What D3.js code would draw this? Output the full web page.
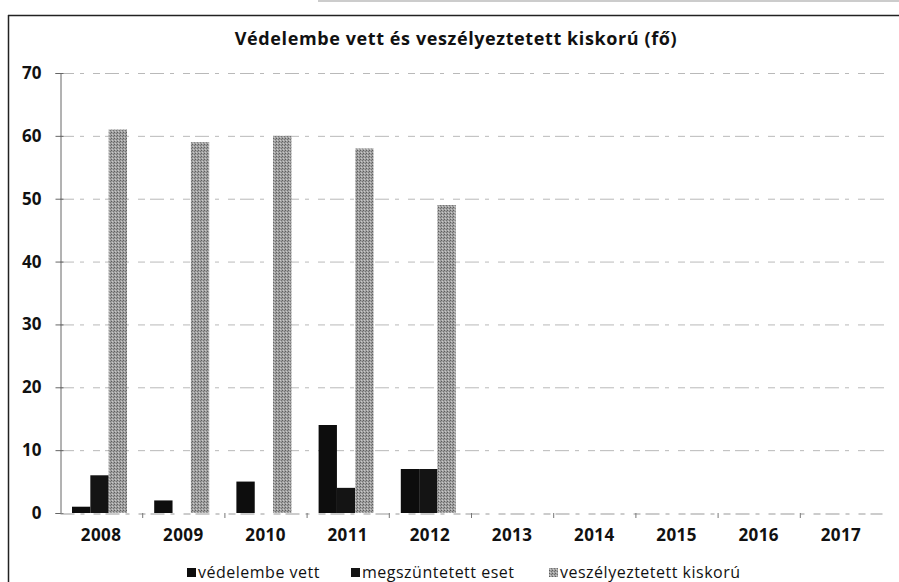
<!DOCTYPE html>
<html>
<head>
<meta charset="utf-8">
<script src="https://cdn.jsdelivr.net/npm/d3@7"></script>
<style>
  body { margin: 0; background: #fff; }
  svg { display: block; font-family: "Open Sans", sans-serif; }
</style>
</head>
<body>
<svg id="chart" width="899" height="582"></svg>
<script>
const years = ["2008", "2009", "2010", "2011", "2012", "2013", "2014", "2015", "2016", "2017"];
const seriesNames = ["védelembe vett", "megszüntetett eset", "veszélyeztetett kiskorú"];
const vedelembeVett = [1, 2, 5, 14, 7, null, null, null, null, null];
const megszuntetett = [6, 0, 0, 4, 7, null, null, null, null, null];
const veszelyeztetett = [61, 59, 60, 58, 49, null, null, null, null, null];
const yTicks = [0, 10, 20, 30, 40, 50, 60, 70];

const svg = d3.select("#chart");
const plot = {left: 60, right: 882, top: 73, bottom: 513};

// textures for the bars
const defs = svg.append("defs");
const grayPat = defs.append("pattern")
    .attr("id", "grayTex")
    .attr("width", 3).attr("height", 3)
    .attr("patternUnits", "userSpaceOnUse");
grayPat.append("rect").attr("width", 3).attr("height", 3).attr("fill", "#a0a0a0");
grayPat.append("rect").attr("x", 0).attr("y", 0).attr("width", 1).attr("height", 1).attr("fill", "#5e5e5e");
grayPat.append("rect").attr("x", 2).attr("y", 1).attr("width", 1).attr("height", 1).attr("fill", "#737373");
grayPat.append("rect").attr("x", 1).attr("y", 2).attr("width", 1).attr("height", 1).attr("fill", "#cacaca");

const colors = ["#0d0d0d", "#141414", "url(#grayTex)"];

// outer frame (left and top edges only show in the scan)
svg.append("line")
    .attr("x1", 8.5).attr("x2", 8.5).attr("y1", 15).attr("y2", 582)
    .attr("stroke", "#222").attr("stroke-width", 1.5);
svg.append("line")
    .attr("x1", 8).attr("x2", 899).attr("y1", 15.5).attr("y2", 15.5)
    .attr("stroke", "#222").attr("stroke-width", 1.5);
svg.append("line")
    .attr("x1", 318).attr("x2", 899).attr("y1", 1).attr("y2", 1)
    .attr("stroke", "#bbb").attr("stroke-width", 1.5);

// title
svg.append("text")
    .attr("x", 456).attr("y", 45)
    .attr("text-anchor", "middle")
    .style("font-size", "18px")
    .style("font-weight", "bold")
    .style("letter-spacing", "0.6px")
    .attr("fill", "#111")
    .text("Védelembe vett és veszélyeztetett kiskorú (fő)");

const x = d3.scaleBand()
    .domain(years)
    .range([plot.left, plot.right])
    .padding(0);

const x1 = d3.scaleBand()
    .domain(seriesNames)
    .range([12, 67])
    .padding(0);

const y = d3.scaleLinear()
    .domain([0, 70])
    .range([plot.bottom, plot.top]);

// gridlines
svg.append("g")
    .selectAll("line")
    .data(yTicks.filter(d => d > 0))
    .enter()
    .append("line")
    .attr("x1", plot.left).attr("x2", 887)
    .attr("y1", d => y(d) + 0.5).attr("y2", d => y(d) + 0.5)
    .attr("stroke", "#8a8a8a")
    .attr("stroke-opacity", 0.6)
    .attr("stroke-dasharray", "14,6,4,9,7,5");

// y axis
const yAxis = svg.append("g")
    .attr("transform", `translate(${plot.left + 0.5},0)`)
    .call(d3.axisLeft(y).tickValues(yTicks).tickSize(5).tickPadding(14));
yAxis.select(".domain").attr("stroke", "#666");
yAxis.selectAll(".tick line").attr("stroke", "#666").attr("x2", -5).attr("x1", 3);
yAxis.selectAll("text")
    .style("font-size", "17px")
    .style("font-weight", "bold")
    .style("font-family", "'Open Sans', sans-serif")
    .attr("fill", "#111");

// x axis
const xAxis = svg.append("g")
    .attr("transform", `translate(0,${plot.bottom + 0.5})`)
    .call(d3.axisBottom(x).tickSize(0).tickPadding(15));
xAxis.select(".domain").attr("stroke", "#999").attr("stroke-dasharray", "14,6,4,9,7,5");
xAxis.selectAll("text")
    .style("font-size", "17px")
    .style("font-weight", "bold")
    .style("letter-spacing", "0.4px")
    .style("font-family", "'Open Sans', sans-serif")
    .attr("fill", "#111");
// small category separators
svg.append("g")
    .selectAll("line")
    .data(years.slice(1))
    .enter()
    .append("line")
    .attr("x1", d => x(d) + 0.5).attr("x2", d => x(d) + 0.5)
    .attr("y1", plot.bottom).attr("y2", plot.bottom + 5)
    .attr("stroke", "#777");

// bars
const seriesData = [vedelembeVett, megszuntetett, veszelyeztetett];
seriesData.forEach((vals, si) => {
    svg.append("g")
        .selectAll("rect")
        .data(vals.map((v, i) => ({year: years[i], value: v})).filter(d => d.value !== null && d.value > 0))
        .enter()
        .append("rect")
        .attr("x", d => x(d.year) + x1(seriesNames[si]))
        .attr("y", d => y(d.value))
        .attr("width", x1.bandwidth())
        .attr("height", d => y(0) - y(d.value))
        .attr("fill", colors[si]);
});

// legend
const legendX = [187, 351, 549];
const legend = svg.append("g");
seriesNames.forEach((name, i) => {
    legend.append("rect")
        .attr("x", legendX[i]).attr("y", 568)
        .attr("width", 9).attr("height", 9)
        .attr("fill", colors[i]);
    legend.append("text")
        .attr("x", legendX[i] + 11).attr("y", 578)
        .style("font-size", "16px")
        .style("letter-spacing", "0.5px")
        .attr("fill", "#111")
        .text(name);
});
</script>
</body>
</html>
